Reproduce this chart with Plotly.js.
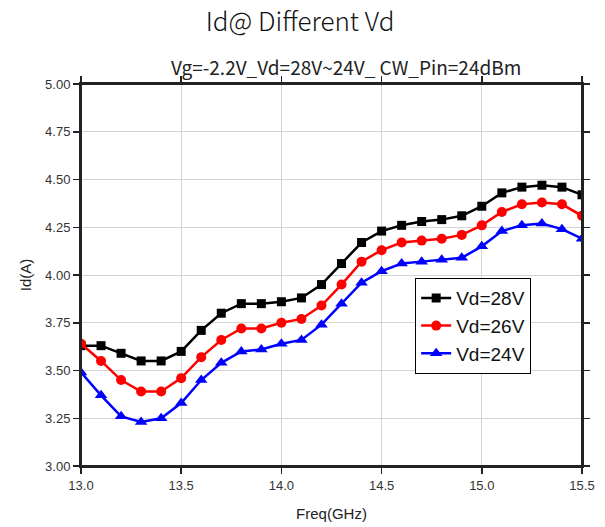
<!DOCTYPE html>
<html>
<head>
<meta charset="utf-8">
<script src="https://cdn.plot.ly/plotly-3.0.1.min.js"></script>
<style>
  html, body { margin: 0; padding: 0; background: #fff; }
  #chart { width: 605px; height: 527px; }
</style>
</head>
<body>
<div id="chart"></div>
<script>
// Frequency sweep (GHz)
const freq = [13.0, 13.1, 13.2, 13.3, 13.4, 13.5, 13.6, 13.7, 13.8, 13.9,
              14.0, 14.1, 14.2, 14.3, 14.4, 14.5, 14.6, 14.7, 14.8, 14.9,
              15.0, 15.1, 15.2, 15.3, 15.4, 15.5];

// Drain current (A) at each drain voltage
const id28 = [3.63, 3.63, 3.59, 3.55, 3.55, 3.60, 3.71, 3.80, 3.85, 3.85,
              3.86, 3.88, 3.95, 4.06, 4.17, 4.23, 4.26, 4.28, 4.29, 4.31,
              4.36, 4.43, 4.46, 4.47, 4.46, 4.42];
const id26 = [3.64, 3.55, 3.45, 3.39, 3.39, 3.46, 3.57, 3.66, 3.72, 3.72,
              3.75, 3.77, 3.84, 3.95, 4.07, 4.13, 4.17, 4.18, 4.19, 4.21,
              4.26, 4.33, 4.37, 4.38, 4.37, 4.31];
const id24 = [3.49, 3.37, 3.26, 3.23, 3.25, 3.33, 3.45, 3.54, 3.60, 3.61,
              3.64, 3.66, 3.74, 3.85, 3.96, 4.02, 4.06, 4.07, 4.08, 4.09,
              4.15, 4.23, 4.26, 4.27, 4.24, 4.19];

const seriesNames = ['Vd=28V', 'Vd=26V', 'Vd=24V'];

const inkColor = '#222';
const tickFont = { family: 'Liberation Sans, Arial, sans-serif', size: 13, color: '#333' };
const labelFont = { family: 'Liberation Sans, Arial, sans-serif', size: 15, color: '#222' };

function series(y, name, color, symbol, size) {
  return {
    x: freq, y: y, name: name, type: 'scatter', mode: 'lines+markers',
    line: { color: color, width: 2.5 },
    marker: { color: color, symbol: symbol, size: size }
  };
}

const traces = [
  series(id28, seriesNames[0], '#000000', 'square', 9),
  series(id26, seriesNames[1], '#ff0000', 'circle', 10),
  series(id24, seriesNames[2], '#0000ff', 'triangle-up', 11)
];

function axis(range, dtick, fmt, titleText, standoff) {
  return {
    range: range, tickmode: 'linear', dtick: dtick, tickformat: fmt,
    ticks: 'outside', ticklen: 6, tickwidth: 1.5, tickcolor: inkColor,
    showline: true, linecolor: inkColor, linewidth: 2, mirror: 'allticks',
    showgrid: true, gridcolor: '#d4d4d4', gridwidth: 1,
    zeroline: false, tickfont: tickFont,
    title: { text: titleText, font: labelFont, standoff: standoff }
  };
}

const layout = {
  width: 605, height: 527,
  margin: { l: 81, r: 23, t: 84, b: 61 },
  paper_bgcolor: '#ffffff', plot_bgcolor: '#ffffff',
  title: {
    text: 'Id@ Different Vd',
    font: { family: 'Noto Sans CJK SC, Noto Sans, sans-serif', size: 26, color: '#111', weight: 300 },
    x: 0.496, xanchor: 'center', y: 0.958, yanchor: 'middle'
  },
  annotations: [{
    text: 'Vg=-2.2V_Vd=28V~24V_ CW_Pin=24dBm',
    xref: 'paper', yref: 'paper', x: 0.529, y: 1.045, xanchor: 'center', yanchor: 'middle',
    showarrow: false,
    font: { family: 'Noto Sans CJK SC, Noto Sans, sans-serif', size: 19, color: '#222' }
  }],
  xaxis: axis([13.0, 15.5], 0.5, '.1f', 'Freq(GHz)', 17),
  yaxis: axis([3.0, 5.0], 0.25, '.2f', 'Id(A)', 10),
  // Plot frame
  shapes: [{
    type: 'rect', xref: 'paper', yref: 'paper', x0: 0, x1: 1, y0: 0, y1: 1,
    line: { color: inkColor, width: 2 }, fillcolor: 'rgba(0,0,0,0)', layer: 'above'
  }],
  legend: {
    x: 0.667, y: 0.492, xanchor: 'left', yanchor: 'top',
    bgcolor: '#ffffff', bordercolor: '#000', borderwidth: 1,
    font: { family: 'Liberation Sans, Arial, sans-serif', size: 19, color: '#111' }
  },
  showlegend: true
};

Plotly.newPlot('chart', traces, layout, { displayModeBar: false, staticPlot: true });
</script>
</body>
</html>
